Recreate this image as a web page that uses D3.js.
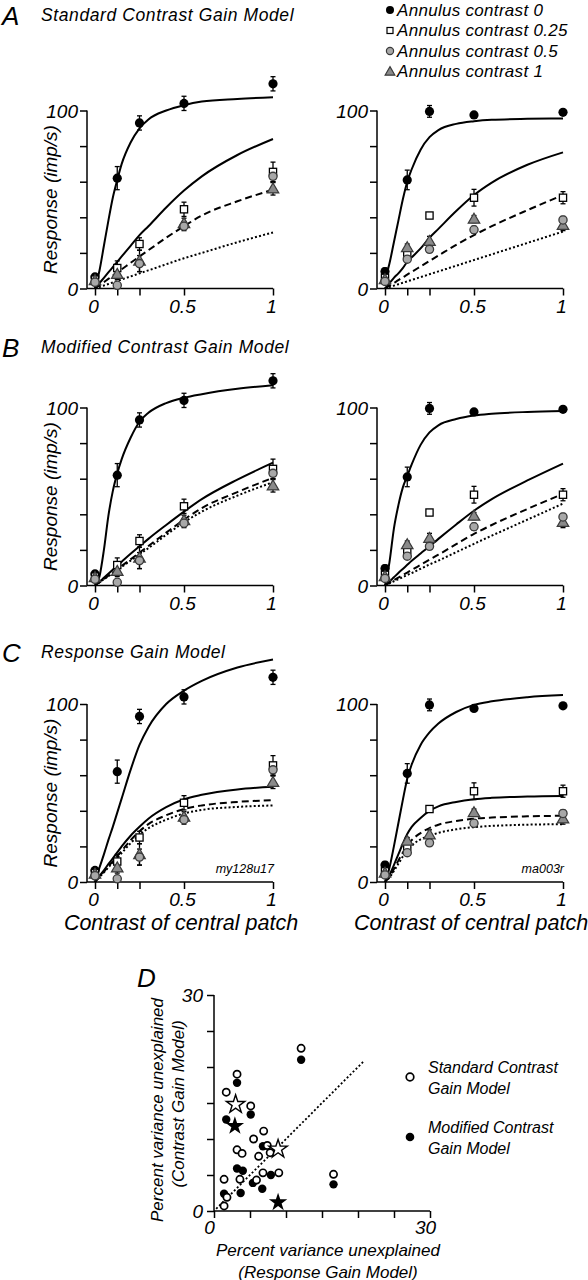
<!DOCTYPE html>
<html><head><meta charset="utf-8">
<script src="https://cdn.jsdelivr.net/npm/d3@7"></script>
<style>
body{margin:0;background:#fff;}
svg text{font-family:"Liberation Sans",Arial,Helvetica,sans-serif;font-style:italic;fill:#000;}
</style></head><body>
<svg id="chart" width="588" height="1280"></svg>
<script>
// ---------- categories / labels ----------
const contrasts = [0, 0.125, 0.25, 0.5, 1];
const xTickLabels = ["0", "", "", "0.5", "1"];
const yTicks = [0, 20, 40, 60, 80, 100];
const yTickLabels = ["0", "", "", "", "", "100"];
const annulusNames = ["Annulus contrast 0", "Annulus contrast 0.25", "Annulus contrast 0.5", "Annulus contrast 1"];
const panelLetters = ["A", "B", "C"];
const panelTitles = ["Standard Contrast Gain Model", "Modified Contrast Gain Model", "Response Gain Model"];
const cellNames = ["my128u17", "ma003r"];

// ---------- measured responses (imp/s) ----------
// cell my128u17 (left column)
const leftResp0   = [6.5, 62, 93, 104, 115];
const leftErr0    = [1.5, 6.5, 4, 4, 4];
const leftResp025 = [5, 11.5, 25, 44.5, 65.5];
const leftErr025  = [1, 4, 3.5, 4, 5.5];
const leftResp05  = [3.5, 1.8, 14, 35, 63];
const leftErr05   = [1, 1.5, 4.5, 2.5, 3];
const leftResp1   = [4.5, 8, 15.5, 36.5, 56];
const leftErr1    = [1, 3, 6, 3, 3.5];
// cell ma003r (right column)
const rightResp0   = [9.5, 61, 99.5, 97.5, 99];
const rightErr0    = [2, 5.5, 3.3, 1, 1];
const rightResp025 = [6, 20, 41, 51, 51];
const rightErr025  = [1, 2, 1, 4.7, 3.4];
const rightResp05  = [4, 16.5, 22, 33, 38.5];
const rightErr05   = [1, 1.5, 1.5, 2, 2];
const rightResp1   = [5, 23, 26.5, 39, 35.5];
const rightErr1    = [1, 2, 2.8, 2, 3];

// ---------- model curves, read at these contrasts ----------
const curveGrid = [0, 0.025, 0.05, 0.075, 0.1, 0.125, 0.15, 0.2, 0.25, 0.3, 0.4, 0.5, 0.6, 0.8, 1];
// A: standard contrast gain
const aLeft0   = [0, 10, 24, 38, 51, 61, 70, 82, 90, 95, 100, 103, 105, 106.5, 107.5];
const aLeft025 = [0, 3, 6, 9, 12, 15, 18, 24, 30, 35, 45.5, 55, 63, 75, 84];
const aLeft05  = [0, 1.8, 3.6, 5.4, 7.2, 9, 10.8, 14.4, 18, 21.5, 28.5, 35, 41, 49, 55.5];
const aLeft1   = [0, 0.8, 1.7, 2.5, 3.4, 4.2, 5.1, 6.8, 8.5, 10.2, 13.6, 17, 20, 26, 31.5];
const aRight0   = [5, 14, 26, 38, 50, 60, 67, 78, 85, 89, 92.5, 94, 94.8, 95.3, 95.5];
const aRight025 = [0, 3, 6, 8.5, 11.5, 15, 17.5, 22.5, 28.5, 33.5, 43.5, 52.5, 59.5, 69.5, 76.5];
const aRight05  = [0, 1.6, 3.1, 4.7, 6.2, 7.8, 9.3, 12.4, 15.5, 18.5, 24.5, 30, 35, 44, 52.5];
const aRight1   = [0, 0.8, 1.6, 2.4, 3.2, 4, 4.8, 6.4, 8, 9.6, 12.8, 16, 19.2, 25.6, 32];
// B: modified contrast gain
const bLeft0   = [0, 5, 20, 39, 53, 63, 71, 83, 92, 97, 102.5, 105.5, 107.5, 110.5, 112.5];
const bLeft025 = [0, 2, 4.3, 6.6, 8.9, 11.2, 13.4, 17.8, 22, 26.2, 34, 41.5, 48.5, 59.5, 69];
const bLeft05  = [0, 1.8, 3.7, 5.5, 7.4, 9.2, 11, 14.7, 18.5, 22.2, 29.7, 37, 43.5, 52.5, 60.5];
const bLeft1   = [0, 1.7, 3.5, 5.2, 7, 8.7, 10.5, 14, 17.5, 21, 28.5, 35.5, 41.5, 50.5, 58];
const bRight0   = [0, 13, 32, 45, 55, 61.5, 68, 79, 86, 90, 93.5, 95.5, 96.5, 97.5, 98];
const bRight025 = [0, 2.2, 4.6, 7, 9.3, 11.6, 13.9, 18, 22, 26.2, 34.3, 42, 48.5, 59, 68.5];
const bRight05  = [0, 1.5, 3, 4.4, 5.9, 7.3, 8.7, 11.6, 14.5, 17.3, 23.2, 29, 34, 43, 51.5];
const bRight1   = [0, 1.2, 2.4, 3.5, 4.7, 5.9, 7, 9.4, 11.8, 14, 18.7, 23.4, 28, 37, 46];
// C: response gain
const cLeft0   = [0, 8, 15.5, 23.5, 31, 39, 47, 63, 77, 87, 100, 107.5, 113, 120.5, 125];
const cLeft025 = [0, 3.3, 6.6, 10, 13.3, 16.6, 20, 26, 31, 35.5, 42, 46.5, 49, 52, 53.5];
const cLeft05  = [0, 2.9, 5.8, 8.8, 11.6, 14.6, 17.5, 23.5, 28.5, 32.5, 37.5, 41, 43, 45, 46];
const cLeft1   = [0, 2.7, 5.4, 8.2, 10.8, 13.6, 16.3, 21.8, 26.5, 30.2, 35, 38.5, 40.5, 42.2, 43];
const cRight0   = [0, 8, 20, 33, 46, 58, 66, 77, 84, 89, 95.5, 99.5, 101.5, 103.8, 105];
const cRight025 = [0, 4, 9.5, 15.5, 21.5, 27, 31, 36, 40, 42.5, 45, 46.5, 47.3, 48, 48.3];
const cRight05  = [0, 3, 7.3, 12, 16.5, 20.5, 23.5, 27.5, 30.3, 32.2, 34.3, 35.6, 36.2, 36.9, 37.2];
const cRight1   = [0, 2.5, 6.2, 10.2, 14.3, 18, 20.5, 24, 26, 27.6, 29.6, 30.8, 31.5, 32.2, 32.5];

// ---------- panel D: percent variance unexplained ----------
const dStdX = [12.1, 3.2, 1.7, 5.1, 6.9, 5.5, 3.2, 3.9, 7.4, 6.2, 7.8, 6.8, 9.0, 1.4, 3.6, 5.9, 16.6, 1.8, 1.4];
const dStdY = [22.6, 19.0, 16.5, 14.6, 11.1, 10.0, 8.5, 8.0, 9.1, 7.6, 8.1, 5.3, 5.3, 4.4, 4.4, 4.3, 5.1, 1.9, 0.7];
const dModX = [12.1, 3.2, 1.7, 5.1, 6.8, 3.2, 4.0, 5.4, 6.7, 7.9, 3.7, 1.4, 16.6];
const dModY = [21.0, 17.8, 12.7, 13.4, 9.0, 5.9, 5.6, 3.9, 3.1, 5.0, 2.5, 2.4, 3.7];
const dStdStarX = [3.0, 8.9];
const dStdStarY = [14.8, 8.6];
const dModStarX = [2.9, 8.9];
const dModStarY = [11.8, 1.2];
const dIdentity = [0.3, 20.7];
const dTicks = [0, 5, 10, 15, 20, 25, 30];
const dTickLabels = ["0", "", "", "", "", "", "30"];
const dLegend = [["Standard Contrast", "Gain Model"], ["Modified Contrast", "Gain Model"]];

// ---------- assemble ----------
const cells = [
  { name: cellNames[0], resp: [leftResp0, leftResp025, leftResp05, leftResp1], err: [leftErr0, leftErr025, leftErr05, leftErr1] },
  { name: cellNames[1], resp: [rightResp0, rightResp025, rightResp05, rightResp1], err: [rightErr0, rightErr025, rightErr05, rightErr1] }
];
const fits = [
  [[aLeft0, aLeft025, aLeft05, aLeft1], [aRight0, aRight025, aRight05, aRight1]],
  [[bLeft0, bLeft025, bLeft05, bLeft1], [bRight0, bRight025, bRight05, bRight1]],
  [[cLeft0, cLeft025, cLeft05, cLeft1], [cRight0, cRight025, cRight05, cRight1]]
];

const svg = d3.select("#chart");
const lineDash = [null, null, "7,4", "2,2.2"];
const markerTypes = ["filled", "square", "circle", "triangle"];
const drawOrder = [0, 1, 3, 2];

function drawMarker(g, type, x, y) {
  if (type === "filled") {
    g.append("circle").attr("cx", x).attr("cy", y).attr("r", 4.6).attr("fill", "#000");
  } else if (type === "square") {
    g.append("rect").attr("x", x - 3.6).attr("y", y - 3.6).attr("width", 7.2).attr("height", 7.2)
      .attr("fill", "#fff").attr("stroke", "#000").attr("stroke-width", 1.3);
  } else if (type === "circle") {
    g.append("circle").attr("cx", x).attr("cy", y).attr("r", 4.1)
      .attr("fill", "#a8a8a8").attr("stroke", "#3a3a3a").attr("stroke-width", 1.3);
  } else {
    const sym = d3.symbol().type(d3.symbolTriangle).size(58);
    g.append("path").attr("d", sym()).attr("transform", `translate(${x},${y + 0.8})`)
      .attr("fill", "#8a8a8a").attr("stroke", "#3a3a3a").attr("stroke-width", 1.2);
  }
}

const colX = [95, 385];
const panelY0 = [288.5, 585.5, 882];
const titleY = [15, 347, 652];

panelY0.forEach((y0, p) => {
  // panel letter and title
  svg.append("text").attr("x", 2).attr("y", titleY[p] + 1)
    .attr("dominant-baseline", "central").attr("font-size", 26).text(panelLetters[p]);
  svg.append("text").attr("x", 41).attr("y", titleY[p])
    .attr("dominant-baseline", "central").attr("font-size", 17.5).attr("letter-spacing", 0.6).text(panelTitles[p]);

  cells.forEach((cell, ci) => {
    const x = d3.scaleLinear().domain([0, 1]).range([colX[ci], colX[ci] + 178]);
    const y = d3.scaleLinear().domain([0, 100]).range([y0, y0 - 178]);
    const axX = colX[ci] - 8;
    const g = svg.append("g");

    // y axis
    const yAxis = d3.axisLeft(y).tickValues(yTicks).tickSize(7).tickFormat((d, i) => yTickLabels[i]);
    const ya = g.append("g").attr("transform", `translate(${axX},0)`).call(yAxis);
    ya.select(".domain").attr("d", `M0,${y(0)}V${y(100)}`).attr("stroke-width", 1.5);
    ya.selectAll(".tick line").attr("stroke-width", 1.5);
    ya.selectAll(".tick text").attr("font-size", 19).attr("font-family", null).attr("x", -9).attr("dy", "0.36em");

    // x axis
    const xAxis = d3.axisBottom(x).tickValues(contrasts).tickSize(7).tickFormat((d, i) => xTickLabels[i]);
    const xa = g.append("g").attr("transform", `translate(0,${y0})`).call(xAxis);
    xa.select(".domain").attr("d", `M${axX},0H${x(1)}`).attr("stroke-width", 1.5);
    xa.selectAll(".tick line").attr("stroke-width", 1.5);
    xa.selectAll(".tick text").attr("font-size", 19).attr("font-family", null).attr("y", 11).attr("dx", -2);

    // fitted curves
    fits[p][ci].forEach((vals, k) => {
      const line = d3.line().x((d, i) => x(curveGrid[i])).y(d => y(d)).curve(d3.curveMonotoneX);
      g.append("path").attr("d", line(vals)).attr("fill", "none").attr("stroke", "#000")
        .attr("stroke-width", 2).attr("stroke-dasharray", lineDash[k]);
    });

    // error bars
    cell.resp.forEach((vals, k) => {
      vals.forEach((v, i) => {
        const e = cell.err[k][i];
        if (e <= 1) return;
        const cx = x(contrasts[i]);
        g.append("line").attr("x1", cx).attr("x2", cx).attr("y1", y(v - e)).attr("y2", y(v + e))
          .attr("stroke", "#000").attr("stroke-width", 1.3);
        [v - e, v + e].forEach(w => g.append("line").attr("x1", cx - 2.5).attr("x2", cx + 2.5)
          .attr("y1", y(w)).attr("y2", y(w)).attr("stroke", "#000").attr("stroke-width", 1.3));
      });
    });
    // markers
    drawOrder.forEach(k => {
      cell.resp[k].forEach((v, i) => drawMarker(g, markerTypes[k], x(contrasts[i]), y(v)));
    });

    // y label (left column only)
    if (ci === 0) {
      svg.append("text").attr("transform", `translate(50,${y0 - 89}) rotate(-90)`)
        .attr("text-anchor", "middle").attr("dominant-baseline", "central")
        .attr("font-size", 19).text("Response (imp/s)");
    }
    if (p === 2) {
      svg.append("text").attr("x", x(1) + 1).attr("y", y0 - 9).attr("text-anchor", "end")
        .attr("font-size", 12.5).text(cell.name);
      svg.append("text").attr("x", x(0.5) - 3).attr("y", y0 + 41).attr("text-anchor", "middle")
        .attr("dominant-baseline", "central").attr("font-size", 21.5).text("Contrast of central patch");
    }
  });
});

// legend (top right)
annulusNames.forEach((name, k) => {
  const ly = 10 + k * 20.5;
  const lg = svg.append("g");
  if (markerTypes[k] === "filled") {
    lg.append("circle").attr("cx", 390).attr("cy", ly).attr("r", 4).attr("fill", "#000");
  } else if (markerTypes[k] === "square") {
    lg.append("rect").attr("x", 387).attr("y", ly - 3).attr("width", 6).attr("height", 6)
      .attr("fill", "#fff").attr("stroke", "#000").attr("stroke-width", 1.2);
  } else if (markerTypes[k] === "circle") {
    lg.append("circle").attr("cx", 390).attr("cy", ly).attr("r", 3.6)
      .attr("fill", "#a8a8a8").attr("stroke", "#3a3a3a").attr("stroke-width", 1.2);
  } else {
    lg.append("path").attr("d", d3.symbol().type(d3.symbolTriangle).size(42)())
      .attr("transform", `translate(390,${ly + 0.8})`)
      .attr("fill", "#8a8a8a").attr("stroke", "#3a3a3a").attr("stroke-width", 1.1);
  }
  lg.append("text").attr("x", 397).attr("y", ly).attr("dominant-baseline", "central")
    .attr("font-size", 17).attr("letter-spacing", 0.3).text(name);
});

// ---------- panel D ----------
const xD = d3.scaleLinear().domain([0, 30]).range([214, 430]);
const yD = d3.scaleLinear().domain([0, 30]).range([1211, 995]);
const gD = svg.append("g");
svg.append("text").attr("x", 137).attr("y", 978).attr("dominant-baseline", "central")
  .attr("font-size", 26).text("D");

const yaD = gD.append("g").attr("transform", `translate(${xD(0)},0)`)
  .call(d3.axisLeft(yD).tickValues(dTicks).tickSize(7).tickFormat((d, i) => dTickLabels[i]));
yaD.select(".domain").attr("d", `M0,${yD(0)}V${yD(30)}`).attr("stroke-width", 1.5);
yaD.selectAll(".tick line").attr("stroke-width", 1.5);
yaD.selectAll(".tick text").attr("font-size", 19).attr("font-family", null).attr("x", -11).attr("dy", "0.36em");

const xaD = gD.append("g").attr("transform", `translate(0,${yD(0)})`)
  .call(d3.axisBottom(xD).tickValues(dTicks).tickSize(7).tickFormat((d, i) => dTickLabels[i]));
xaD.select(".domain").attr("d", `M${xD(0)},0H${xD(30)}`).attr("stroke-width", 1.5);
xaD.selectAll(".tick line").attr("stroke-width", 1.5);
xaD.selectAll(".tick text").attr("font-size", 19).attr("font-family", null).attr("y", 10).attr("dx", -5);

gD.append("line").attr("x1", xD(dIdentity[0])).attr("y1", yD(dIdentity[0]))
  .attr("x2", xD(dIdentity[1])).attr("y2", yD(dIdentity[1]))
  .attr("stroke", "#000").attr("stroke-width", 1.8).attr("stroke-dasharray", "2,2.2");

dModX.forEach((v, i) => gD.append("circle").attr("cx", xD(v)).attr("cy", yD(dModY[i])).attr("r", 4.2).attr("fill", "#000"));
dStdX.forEach((v, i) => gD.append("circle").attr("cx", xD(v)).attr("cy", yD(dStdY[i])).attr("r", 3.6)
  .attr("fill", "#fff").attr("stroke", "#000").attr("stroke-width", 1.7));
const star = d3.symbol().type(d3.symbolStar).size(105);
dModStarX.forEach((v, i) => gD.append("path").attr("d", star()).attr("transform", `translate(${xD(v)},${yD(dModStarY[i])})`).attr("fill", "#000"));
dStdStarX.forEach((v, i) => gD.append("path").attr("d", star()).attr("transform", `translate(${xD(v)},${yD(dStdStarY[i])})`)
  .attr("fill", "#fff").attr("stroke", "#000").attr("stroke-width", 1.4));

// D axis titles
svg.append("text").attr("transform", "translate(157,1110) rotate(-90)").attr("text-anchor", "middle")
  .attr("dominant-baseline", "central").attr("font-size", 17).text("Percent variance unexplained");
svg.append("text").attr("transform", "translate(178,1104) rotate(-90)").attr("text-anchor", "middle")
  .attr("dominant-baseline", "central").attr("font-size", 17).text("(Contrast Gain Model)");
svg.append("text").attr("x", 328).attr("y", 1250).attr("text-anchor", "middle")
  .attr("dominant-baseline", "central").attr("font-size", 17).text("Percent variance unexplained");
svg.append("text").attr("x", 328).attr("y", 1272).attr("text-anchor", "middle")
  .attr("dominant-baseline", "central").attr("font-size", 17).text("(Response Gain Model)");

// D legend
dLegend.forEach((lines, k) => {
  const cy = 1077 + k * 60;
  if (k === 0) gD.append("circle").attr("cx", 410).attr("cy", cy).attr("r", 3.8)
    .attr("fill", "#fff").attr("stroke", "#000").attr("stroke-width", 1.7);
  else gD.append("circle").attr("cx", 410).attr("cy", cy).attr("r", 4.3).attr("fill", "#000");
  lines.forEach((t, j) => svg.append("text").attr("x", 428).attr("y", cy - 10 + j * 21)
    .attr("dominant-baseline", "central").attr("font-size", 16).text(t));
});
</script>
</body></html>
